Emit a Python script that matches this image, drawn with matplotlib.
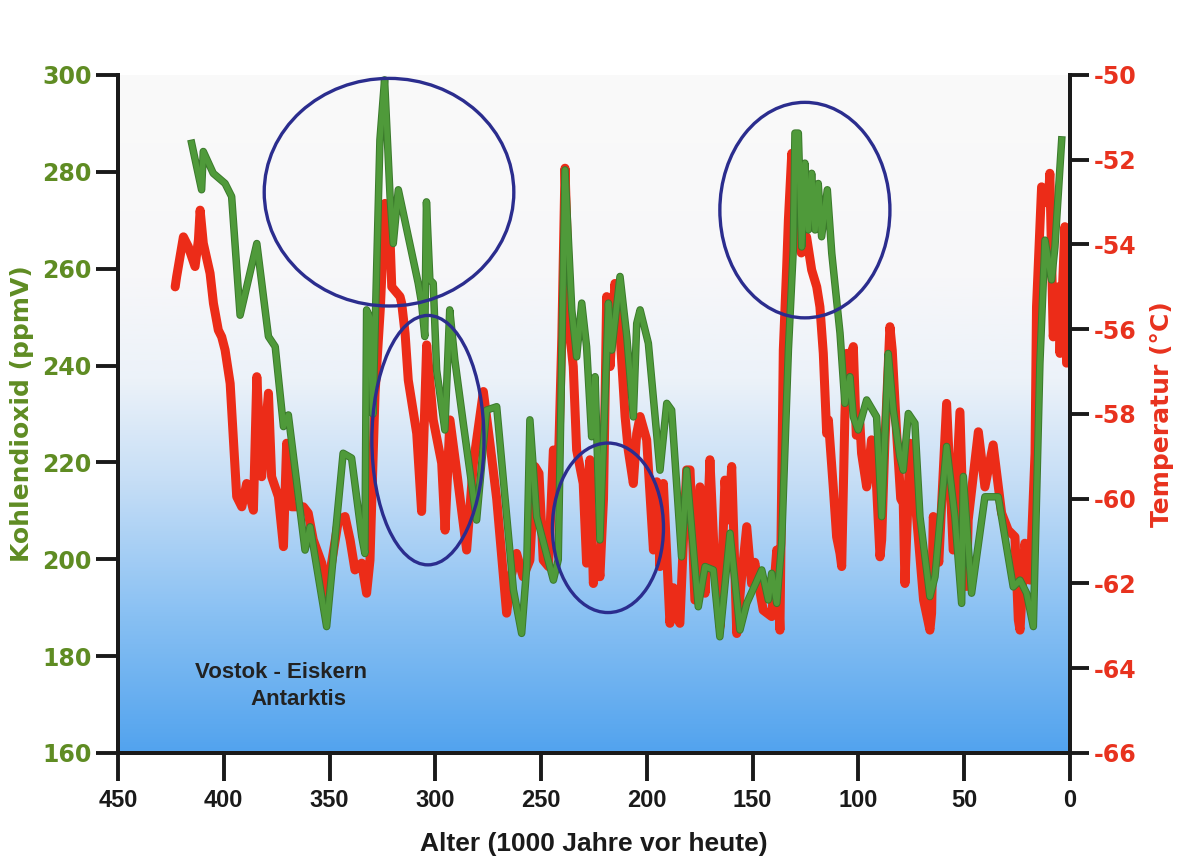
import numpy as np
import matplotlib
matplotlib.use('Agg')
import matplotlib.pyplot as plt
from matplotlib.colors import LinearSegmentedColormap
from matplotlib.patches import Ellipse
import matplotlib.patheffects as pe

plt.rcParams['axes.unicode_minus'] = False

# CO2 (green), age in 1000 years before present
co2_age = [415.2, 410.5, 409.7, 405.0, 399.4, 396.3, 392.3, 384.4, 378.9, 375.7,
           371.8, 369.5, 361.6, 359.2, 351.4, 343.6, 339.6, 334.8, 333.3, 332.5,
           331.0, 329.5, 326.2, 324.0, 321.4, 319.9, 317.5, 312.8, 308.1, 306.5,
           305.0, 304.2, 302.6, 301.0, 299.4, 295.5, 293.2, 290.8, 286.8, 280.5,
           275.8, 271.0, 263.1, 259.2, 256.8, 255.3, 252.1, 244.2, 241.9, 238.7,
           235.5, 233.2, 230.8, 228.5, 226.1, 224.5, 222.2, 218.2, 216.6, 212.7,
           209.5, 206.4, 204.8, 203.2, 199.3, 193.8, 190.6, 188.3, 183.6, 181.2,
           175.7, 172.5, 168.6, 165.5, 160.7, 156.0, 152.8, 145.7, 142.6, 141.0,
           138.6, 136.3, 133.1, 130.8, 130.0, 128.4, 126.8, 125.3, 123.7, 122.1,
           120.5, 119.0, 117.4, 114.7, 112.6, 108.7, 106.4, 104.0, 102.4, 100.1,
           96.1, 91.4, 89.0, 85.9, 83.5, 80.4, 78.8, 76.4, 73.3, 70.9,
           66.2, 63.8, 58.3, 54.4, 51.2, 50.4, 46.5, 40.2, 33.9, 26.8,
           23.6, 20.5, 17.3, 14.2, 11.8, 8.7, 7.1, 3.9]
co2_ppm = [285.9, 276.3, 284.2, 279.7, 277.6, 274.9, 250.4, 265.2, 246.0, 243.9,
           227.4, 229.8, 201.9, 206.7, 186.1, 221.9, 220.9, 204.7, 201.2, 251.5,
           250.0, 230.0, 286.6, 299.0, 274.9, 265.2, 276.3, 266.6, 257.0, 252.9,
           246.0, 273.8, 257.7, 257.0, 239.1, 226.7, 251.5, 241.2, 228.1, 208.1,
           230.8, 231.5, 193.7, 184.7, 198.5, 228.8, 208.8, 195.7, 199.9, 280.4,
           251.5, 241.8, 252.9, 243.9, 225.3, 237.7, 204.0, 252.9, 243.2, 258.4,
           246.0, 229.4, 248.7, 251.5, 244.6, 218.4, 232.2, 230.8, 200.5, 218.4,
           190.2, 198.5, 197.8, 184.0, 205.4, 185.4, 190.9, 197.8, 191.6, 197.1,
           190.9, 203.3, 243.2, 263.9, 288.0, 288.0, 264.5, 281.8, 268.0, 279.7,
           268.0, 277.6, 266.6, 276.3, 263.2, 246.7, 232.2, 237.7, 229.4, 226.7,
           232.9, 229.4, 208.8, 242.5, 230.8, 221.2, 218.4, 230.1, 228.1, 208.8,
           192.3, 196.4, 223.3, 208.8, 190.9, 217.1, 193.0, 212.9, 212.9, 194.3,
           195.7, 193.0, 186.1, 240.5, 265.9, 257.7, 264.5, 286.6]

# temperature (red)
temp_age = [423.0, 422.3, 419.1, 416.8, 413.6, 412.0, 411.2, 409.7, 406.5, 404.9,
            402.6, 401.0, 399.4, 397.0, 393.9, 391.5, 389.2, 386.0, 384.4, 382.1,
            378.9, 377.4, 374.2, 371.8, 370.3, 367.9, 362.4, 360.1, 357.7, 353.7,
            352.2, 349.0, 345.8, 342.7, 340.3, 338.0, 334.8, 332.5, 330.9, 328.5,
            326.0, 323.8, 321.4, 320.6, 316.7, 315.9, 314.3, 312.8, 308.8, 306.5,
            304.1, 301.0, 297.0, 295.4, 293.1, 289.9, 285.2, 282.0, 277.3, 274.2,
            271.0, 266.3, 264.0, 261.6, 258.5, 255.3, 252.9, 251.0, 249.0, 246.5,
            244.2, 242.0, 240.2, 238.7, 236.3, 234.8, 233.2, 230.1, 228.5, 226.9,
            225.3, 223.5, 222.2, 220.5, 219.0, 217.4, 215.1, 212.7, 210.3, 208.8,
            206.4, 204.8, 203.2, 200.1, 198.5, 196.9, 195.3, 193.8, 192.2, 189.1,
            187.5, 185.9, 184.4, 183.0, 181.2, 179.6, 177.3, 174.9, 172.5, 170.2,
            168.0, 165.4, 163.1, 161.5, 159.9, 157.5, 155.5, 152.8, 150.5, 149.0,
            145.0, 141.0, 138.6, 137.1, 135.5, 133.9, 133.1, 131.5, 129.2, 127.0,
            124.5, 122.1, 119.7, 118.2, 116.6, 115.0, 114.2, 111.9, 110.3, 108.7,
            107.9, 106.4, 105.5, 103.2, 102.4, 101.0, 99.3, 98.5, 96.1, 93.8,
            91.4, 89.8, 89.0, 87.5, 85.1, 84.0, 82.0, 80.0, 78.8, 78.0,
            75.6, 72.5, 69.2, 66.2, 65.4, 64.6, 62.0, 58.3, 55.2, 52.0,
            49.6, 48.9, 48.1, 43.3, 40.2, 36.3, 32.3, 29.2, 26.0, 24.4,
            23.6, 21.3, 18.9, 16.5, 15.8, 13.4, 12.6, 10.3, 9.5, 7.9,
            5.5, 4.7, 2.4, 1.6]
temp_c = [-55.00, -54.76, -53.82, -54.05, -54.52, -53.89, -53.19, -53.97, -54.68, -55.39,
          -56.02, -56.18, -56.49, -57.28, -59.95, -60.19, -59.64, -60.27, -57.12, -59.48,
          -57.51, -59.48, -59.95, -61.13, -58.69, -60.19, -60.19, -60.34, -60.97, -61.52,
          -62.31, -61.50, -60.50, -60.42, -60.97, -61.68, -61.52, -62.23, -61.45, -57.51,
          -55.50, -53.03, -53.89, -55.00, -55.23, -55.39, -56.10, -57.20, -58.46, -60.30,
          -56.37, -58.14, -59.16, -60.74, -58.14, -59.36, -61.21, -59.16, -57.47, -58.69,
          -60.00, -62.70, -61.80, -61.29, -61.84, -61.45, -59.24, -59.40, -61.45, -61.60,
          -58.85, -59.50, -56.18, -52.20, -56.18, -56.88, -58.85, -59.64, -61.52, -59.08,
          -62.00, -61.20, -61.84, -60.00, -55.23, -56.88, -54.92, -56.10, -58.06, -58.85,
          -59.64, -58.46, -58.06, -58.61, -59.90, -61.21, -59.60, -61.60, -59.64, -62.94,
          -62.10, -62.78, -62.94, -61.30, -59.32, -59.32, -62.39, -59.72, -62.23, -59.08,
          -61.50, -63.02, -59.56, -60.50, -59.24, -63.18, -62.00, -60.66, -62.00, -61.50,
          -62.63, -62.78, -61.21, -63.10, -56.49, -54.52, -53.42, -51.85, -53.82, -54.20,
          -53.82, -54.60, -55.00, -55.47, -56.57, -58.46, -58.14, -59.72, -60.90, -61.29,
          -61.60, -58.06, -56.57, -56.57, -56.41, -58.50, -58.22, -58.93, -59.72, -58.61,
          -59.72, -61.37, -60.97, -58.70, -55.94, -56.50, -58.40, -60.00, -60.11, -62.00,
          -58.69, -60.42, -62.39, -63.10, -62.70, -60.42, -61.50, -57.75, -61.21, -57.95,
          -62.00, -62.07, -60.50, -58.42, -59.72, -58.73, -60.34, -60.74, -60.90, -62.86,
          -63.10, -61.05, -61.92, -58.93, -55.47, -52.64, -52.71, -53.03, -52.32, -56.18,
          -55.00, -56.57, -53.58, -56.80]

# highlighted regions: (age centre, ppm centre, width in kyr, height in ppm)
ellipses = [(321.9, 275.8, 118.0, 47.0),
            (303.5, 224.6, 53.0, 51.5),
            (218.4, 206.5, 52.5, 35.0),
            (125.3, 272.1, 80.4, 44.5)]

green = '#4f9a3a'
red = '#ec2c18'
label_green = '#5f8c23'
label_red = '#e8321e'

fig = plt.figure(figsize=(11.96, 8.59), dpi=100)
fig.patch.set_facecolor('white')
ax = fig.add_axes([0.0987, 0.1234, 0.7959, 0.7893])
ax2 = ax.twinx()

ax.set_xlim(450, 0)
ax.set_ylim(160, 300)
ax2.set_ylim(-66, -50)

# background gradient, white at top to blue at bottom
cmap = LinearSegmentedColormap.from_list('bg', [
    (0.0, '#52a3ee'), (0.2, '#88c0f3'), (0.4, '#c6def6'),
    (0.55, '#ecf2f9'), (0.7, '#f7f7f9'), (1.0, '#fafafa')])
grad = np.linspace(0, 1, 256).reshape(-1, 1)
ax2.imshow(grad, cmap=cmap, origin='lower', aspect='auto',
           extent=(450, 0, -66, -50), zorder=0)
ax2.set_xlim(450, 0)
ax2.set_ylim(-66, -50)

ax2.plot(temp_age, temp_c, color=red, lw=6.5, solid_joinstyle='round',
         solid_capstyle='round', zorder=2)

ax.set_zorder(ax2.get_zorder() + 1)
ax.patch.set_visible(False)
ax.plot(co2_age, co2_ppm, color=green, lw=4.0, zorder=3, solid_joinstyle='round',
        path_effects=[pe.Stroke(linewidth=5.4, foreground='#3b7a2c'), pe.Normal()])

for cx, cy, w, h in ellipses:
    ax.add_patch(Ellipse((cx, cy), w, h, fill=False, edgecolor='#2b2d8e', lw=2.4, zorder=4))

ax.text(372.8, 176.7, 'Vostok - Eiskern', ha='center', va='center', fontsize=16,
        fontweight='bold', color='#222222', family='Liberation Sans')
ax.text(364.5, 171.0, 'Antarktis', ha='center', va='center', fontsize=16,
        fontweight='bold', color='#222222', family='Liberation Sans')

# spines and ticks
for a in (ax, ax2):
    a.spines['top'].set_visible(False)
    for s in ('left', 'right', 'bottom'):
        a.spines[s].set_linewidth(2.8)
        a.spines[s].set_color('#1a1a1a')

ax.set_xticks(np.arange(450, -1, -50))
ax.set_yticks(np.arange(160, 301, 20))
ax2.set_yticks(np.arange(-66, -49, 2))

ax.tick_params(axis='x', direction='out', length=20, width=2.8, color='#1a1a1a',
               labelsize=17, pad=6)
ax.tick_params(axis='y', direction='out', length=16, width=2.8, color='#1a1a1a',
               labelsize=17, labelcolor=label_green, pad=3)
ax2.tick_params(axis='y', direction='out', length=14, width=2.8, color='#1a1a1a',
                labelsize=17, labelcolor=label_red, pad=3)
for t in ax.get_yticklabels():
    t.set_fontweight('bold')
for t in ax2.get_yticklabels():
    t.set_fontweight('bold')
for t in ax.get_xticklabels():
    t.set_family('Liberation Sans')
    t.set_fontweight('bold')
    t.set_color('#1a1a1a')

ax.set_xlabel('Alter (1000 Jahre vor heute)', fontsize=19, fontweight='bold',
              family='Liberation Sans', color='#1a1a1a', labelpad=14)
ax.set_ylabel('Kohlendioxid (ppmV)', fontsize=18, fontweight='bold',
              color=label_green, labelpad=6)
ax2.set_ylabel('Temperatur (°C)', fontsize=18, fontweight='bold',
               color=label_red, labelpad=10)

fig.savefig('out.png', dpi=100)
